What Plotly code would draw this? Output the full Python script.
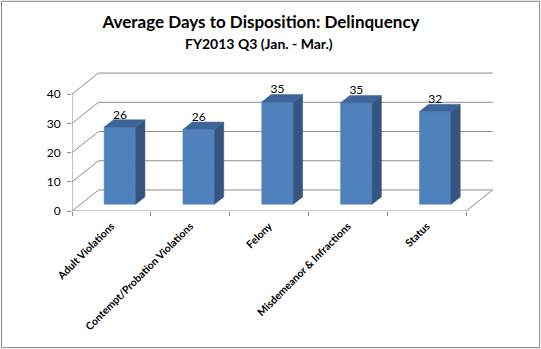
import plotly.graph_objects as go

# ---- data ----
categories = ["Adult Violations", "Contempt/Probation Violations", "Felony",
              "Misdemeanor & Infractions", "Status"]
values = [26.4, 25.6, 35.0, 34.7, 31.7]
y_ticks = [0, 10, 20, 30, 40]
title_text = "Average Days to Disposition: Delinquency"
subtitle_text = "FY2013 Q3 (Jan. - Mar.)"

# ---- geometry / style ----
FW, FH = 541, 349
L, B = 72, 138
PXU, PXV = 78.8, 2.92
XR = (0, 5.43)
YR = (0, 52)
W = (XR[1] - XR[0]) * PXU
H = (YR[1] - YR[0]) * PXV
R = FW - L - W
T = FH - B - H

DX = 26.5 / PXU          # depth offset in x units
DY = 21.0 / PXV          # depth offset in y units
F0, F1 = 0.32, 0.67      # bar depth fractions
BW = 0.40                # bar width (fraction of category)

FONT = "Lato"
GRID = "#8C8C8C"
FRONT = "#4F81BD"
SIDE = "#34557F"
TOP = "#3E649A"

n = len(categories)

fig = go.Figure()

# gridlines (left wall + back wall) and floor edges
gx, gy = [], []
for v in y_ticks:
    gx += [0, DX, n + DX, None]
    gy += [v, v + DY, v + DY, None]
gx += [0, n, n + DX, None, 0, 0, None]
gy += [0, 0, DY, None, 0, y_ticks[-1], None]
fig.add_trace(go.Scatter(x=gx, y=gy, mode="lines",
                         line=dict(color=GRID, width=1), hoverinfo="skip"))

# 3D bars
fx, fy, sx, sy, tx, ty = [], [], [], [], [], []
lx, ly, lt = [], [], []
for i, v in enumerate(values):
    x0 = i + 0.5 - BW / 2 + F0 * DX
    x1 = x0 + BW
    yb = F0 * DY
    yt = v + F0 * DY
    ddx = (F1 - F0) * DX
    ddy = (F1 - F0) * DY
    fx += [x0, x1, x1, x0, x0, None]
    fy += [yb, yb, yt, yt, yb, None]
    sx += [x1, x1 + ddx, x1 + ddx, x1, x1, None]
    sy += [yb, yb + ddy, yt + ddy, yt, yb, None]
    tx += [x0, x1, x1 + ddx, x0 + ddx, x0, None]
    ty += [yt, yt, yt + ddy, yt + ddy, yt, None]
    lx.append((x0 + x1) / 2)
    ly.append(yt + 0.75 * ddy)
    lt.append(f"{v:.0f}")

for px_, py_, col in [(fx, fy, FRONT), (sx, sy, SIDE), (tx, ty, TOP)]:
    fig.add_trace(go.Scatter(x=px_, y=py_, mode="lines", fill="toself",
                             fillcolor=col, line=dict(color=col, width=0.5),
                             hoverinfo="skip"))

fig.add_trace(go.Scatter(x=lx, y=ly, mode="text", text=lt,
                         textposition="top center",
                         textfont=dict(family=FONT, size=12, color="#000000"),
                         hoverinfo="skip"))

# outer border
def px2paper_x(p):
    return (p - L) / W

def px2paper_y(p):
    return (FH - B - p) / H

fig.add_shape(type="rect", xref="paper", yref="paper",
              x0=px2paper_x(1.5), x1=px2paper_x(539.5),
              y0=px2paper_y(347.5), y1=px2paper_y(1.5),
              line=dict(color="#868686", width=1), layer="below")

fig.add_annotation(text=f"<b>{subtitle_text}</b>", xref="paper", yref="paper",
                   x=px2paper_x(259), y=px2paper_y(44), showarrow=False,
                   xanchor="center", yanchor="middle",
                   font=dict(family=FONT, size=14, color="#000000"))

fig.update_layout(
    width=FW, height=FH, autosize=False,
    margin=dict(l=L, r=R, t=T, b=B, pad=0),
    paper_bgcolor="white", plot_bgcolor="white",
    showlegend=False,
    title=dict(text=f"<b>{title_text}</b>", x=261 / FW, xanchor="center",
               y=1 - 22 / FH, yanchor="middle", yref="container",
               font=dict(family=FONT, size=17, color="#000000")),
    xaxis=dict(range=list(XR), showgrid=False, zeroline=False, showline=False,
               tickvals=[i + 0.5 for i in range(n)],
               ticktext=[f"<b>{c}</b>" for c in categories],
               tickangle=-45, ticks="", ticklabelstandoff=6,
               tickfont=dict(family=FONT, size=10.5, color="#000000"),
               minor=dict(tick0=0, dtick=1, ticks="outside", ticklen=4,
                          tickcolor=GRID, showgrid=False)),
    yaxis=dict(range=list(YR), showgrid=False, zeroline=False, showline=False,
               tickvals=y_ticks, ticks="outside", ticklen=4, tickcolor=GRID,
               ticklabelstandoff=4,
               tickfont=dict(family=FONT, size=12, color="#000000")),
)

fig.write_html("out.html")
